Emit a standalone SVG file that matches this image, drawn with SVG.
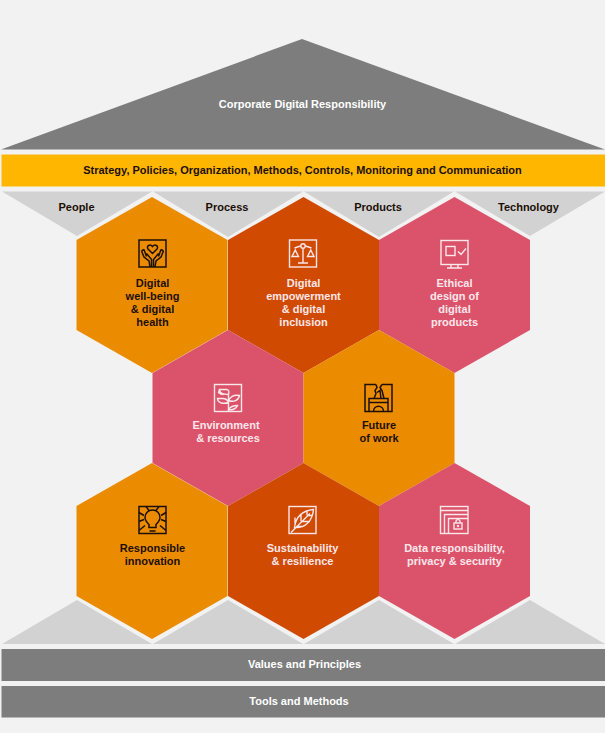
<svg xmlns="http://www.w3.org/2000/svg" width="605" height="733" viewBox="0 0 605 733">
<style>
text{font-family:"Liberation Sans",Arial,sans-serif;font-weight:700;font-size:11px;text-anchor:middle}
.k{fill:#1c0f06}.w{fill:#fff}.w2{fill:#fbe6ea}
.g{fill:#7d7d7d}.l{fill:#d2d2d2}
.o{fill:#eb8c00}.d{fill:#d04a02}.p{fill:#db536a}
.ik{fill:none;stroke:#1c0f06;stroke-width:1.5}
.iw{fill:none;stroke:#fbe6ea;stroke-width:1.4}
</style>
<defs>
<polygon id="hex" points="0,-88 75.5,-45 75.500,45 0,88 -75.500,45 -75.500,-45"/>
</defs>
<rect width="605" height="733" fill="#f2f2f2"/>
<g id="roof"><polygon class="g" points="302,39 605,149.500 1,149.500"/><text class="w" x="302.500" y="107.500">Corporate Digital Responsibility</text></g>
<g id="strategy"><rect x="1.500" y="154.500" width="603.500" height="32" fill="#ffb600"/><text class="k" x="302.500" y="174">Strategy, Policies, Organization, Methods, Controls, Monitoring and Communication</text></g>
<g id="pillars-top">
<polygon class="l" points="2,191.500 152,191.500 77,236"/>
<polygon class="l" points="153,191.500 303,191.500 228,237"/>
<polygon class="l" points="304,191.500 454,191.500 379,237"/>
<polygon class="l" points="455,191.500 605,191.500 530,236"/>
<text class="k" x="76.500" y="210.500">People</text>
<text class="k" x="227" y="210.500">Process</text>
<text class="k" x="378" y="210.500">Products</text>
<text class="k" x="528.500" y="210.500">Technology</text>
</g>
<g id="pillars-bottom">
<polygon class="l" points="2,644 152,644 77,600"/>
<polygon class="l" points="153,644 303,644 228,600"/>
<polygon class="l" points="304,644 454,644 379,600"/>
<polygon class="l" points="455,644 605,644 530,600"/>
</g>
<g id="h1"><use href="#hex" class="o" x="152" y="285"/>
<g class="ik" transform="translate(139,240)"><rect width="27" height="27"/><path d="M13.500 13.500l-4.500-4.500c-2-3 2-5.500 4.500-2.500c2.500-3 6.500-.5 4.500 2.500z"/><path d="M2.500 11l2.500 6 5 4 1 6M5 9.500l2.500 7M2.500 11l2.500-1.500M7.500 13.500l5 6v7.500M24.500 11l-2.500 6-5 4-1 6M22 9.500l-2.500 7M24.500 11l-2.500-1.500M19.500 13.500l-5 6v7.500"/></g>
<text class="k" x="152.500" y="286.500">Digital</text><text class="k" x="152.500" y="299.500">well-being</text><text class="k" x="152.500" y="312.500">&amp; digital</text><text class="k" x="152.500" y="325.500">health</text></g>
<g id="h2"><use href="#hex" class="d" x="303.500" y="285"/>
<g class="iw" transform="translate(289.500,240)"><rect width="27" height="27"/><path d="M5 8l6-2M16 6l6 2M13.500 8.500v14M8.500 23h10M2.500 16.500h6.500l-3.250-6.500zM18 16.500h6.500l-3.250-6.500z"/><circle cx="13.500" cy="6" r="2.200"/></g>
<text class="w2" x="303.500" y="286.500">Digital</text><text class="w2" x="303.500" y="299.500">empowerment</text><text class="w2" x="303.500" y="312.500">&amp; digital</text><text class="w2" x="303.500" y="325.500">inclusion</text></g>
<g id="h3"><use href="#hex" class="p" x="454.500" y="285"/>
<g class="iw" transform="translate(441,240.500)"><rect width="27" height="24"/><rect x="5" y="6" width="9" height="9"/><path d="M17 11l3 3 5-6M10 24v3.500M17 24v3.500M6 27.500h15"/></g>
<text class="w2" x="454.500" y="286.500">Ethical</text><text class="w2" x="454.500" y="299.500">design of</text><text class="w2" x="454.500" y="312.500">digital</text><text class="w2" x="454.500" y="325.500">products</text></g>
<g id="h4"><use href="#hex" class="p" x="228" y="418"/>
<g class="iw" transform="translate(214.500,384.500)"><rect width="27" height="27"/><path d="M14 27V10M14 10c1-3 0-5-2-5H5c0 4 3 5 9 5M5 5l-1 3c1 1 3 2 5 2M14 18c-1-3-3-4-6-4H3c0 4 5 6 11 4M14 16c2-4 6-6 11-5-1 5-6 7-11 5zM14 25c2-3 5-4 9-4-1 3-5 5-9 4z"/></g>
<text class="w2" x="226" y="429">Environment</text><text class="w2" x="228" y="442">&amp; resources</text></g>
<g id="h5"><use href="#hex" class="o" x="379" y="418"/>
<g class="ik" transform="translate(365,384.500)"><path d="M11 0H0V27H27V0H17M11 0l1 3-2 3 1 3-2 5M17 0l-2 3 2 3 2 8M12 8l3-2 1 8M4 27V14H23V27M4 18H23M8.500 27c0-7 10-7 10 0"/></g>
<text class="k" x="379" y="429">Future</text><text class="k" x="379" y="442">of work</text></g>
<g id="h6"><use href="#hex" class="o" x="152" y="551"/>
<g class="ik" transform="translate(139,506.500)"><rect width="27" height="27"/><path d="M10 21v-3c-2-2-4-4-4-7 0-4 3-7.500 7.500-7.500s7.500 3.500 7.500 7.500c0 3-2 5-4 7v3zM10 21h7M10.500 24.500h6M7 0l3 4M20 0l-3 4M0 6l5 3M27 6l-5 3M0 15l5-2M27 15l-5-2M0 24l6-5M27 24l-6-5"/></g>
<text class="k" x="152.500" y="552">Responsible</text><text class="k" x="152.500" y="565">innovation</text></g>
<g id="h7"><use href="#hex" class="d" x="303.500" y="551"/>
<g class="iw" transform="translate(289,506.500)"><rect width="27" height="27"/><path d="M2 26L21 7M24.500 3C14 4 7 9 5.500 21c11 1 18-7 19-18zM6 17l0-6M12 15V7M18 9V4.500M7 20h7M12 15h9M18 9h5"/></g>
<text class="w2" x="302.500" y="552">Sustainability</text><text class="w2" x="302.500" y="565">&amp; resilience</text></g>
<g id="h8"><use href="#hex" class="p" x="454.500" y="551"/>
<g class="iw" transform="translate(440.500,506.500)"><rect width="27.500" height="27"/><path d="M0 4h27.500M4 27V8h23.500M8 27V12h19.500"/><rect x="13.500" y="16.500" width="8" height="6"/><path d="M15.500 16.500v-1.500c0-2.500 4-2.500 4 0v1.500"/><circle cx="17.500" cy="19.500" r=".5"/></g>
<text class="w2" x="454.500" y="552">Data responsibility,</text><text class="w2" x="454.500" y="565">privacy &amp; security</text></g>
<g id="values"><rect class="g" x="1.500" y="649" width="603.500" height="32"/><text class="w" x="304.500" y="667.500">Values and Principles</text></g>
<g id="tools"><rect class="g" x="1.500" y="686" width="603.500" height="31.500"/><text class="w" x="299" y="704.500">Tools and Methods</text></g>
</svg>
